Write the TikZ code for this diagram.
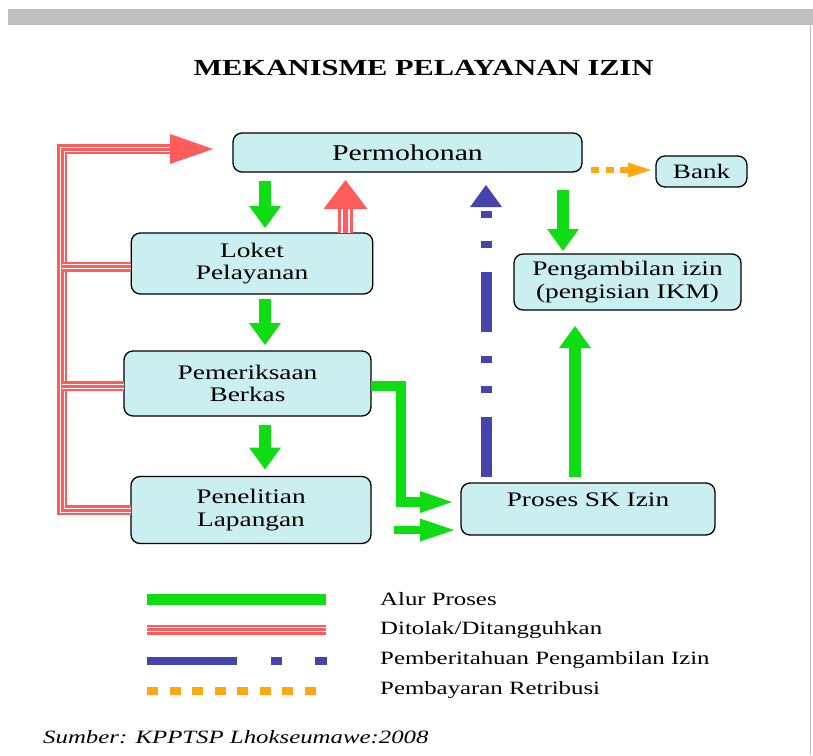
\documentclass[tikz,border=0pt]{standalone}
\usepackage{fontspec}
\setmainfont{Liberation Serif}[FakeStretch=1.32]
\usetikzlibrary{arrows.meta,calc}
\definecolor{boxc}{RGB}{203,238,241}
\definecolor{grn}{RGB}{16,220,20}
\definecolor{rdc}{RGB}{255,92,92}
\definecolor{blu}{RGB}{68,68,170}
\definecolor{org}{RGB}{255,168,16}
\definecolor{barc}{RGB}{191,191,191}
\begin{document}
\begin{tikzpicture}[x=1pt,y=-1pt,
  box/.style={draw=black,line width=1.3pt,fill=boxc,rounded corners=9pt,inner sep=0pt,outer sep=0pt,align=center,font=\fontsize{20.7}{22.6}\selectfont},
  gar/.style={draw=grn,line width=12pt,-{Triangle[length=22pt,width=32pt,line width=0pt]}},
  rtrip/.style={draw=white,line width=5pt,preaction={draw=rdc,line width=10pt},postaction={draw=rdc,line width=3pt}},
  rtripw/.style={draw=white,line width=8.4pt,preaction={draw=rdc,line width=15pt},postaction={draw=rdc,line width=5pt}},
  orgar/.style={draw=org,line width=6.5pt,dash pattern=on 8pt off 6.5pt,-{Triangle[length=23pt,width=15pt,line width=0pt]}},
  legtxt/.style={anchor=base west,inner sep=0pt,font=\fontsize{18.8}{22}\selectfont}
]
\useasboundingbox (0,0) rectangle (813,755);
% top bar and right rule
\fill[barc] (8,9) rectangle (813,25);
\draw[barc,line width=1pt] (810.5,25) -- (810.5,755);

% title
\node[anchor=base,inner sep=0pt,font=\bfseries\fontsize{23}{26}\selectfont] (title) at (423.5,75) {MEKANISME PELAYANAN IZIN};

% boxes
\node[box,minimum width=349pt,minimum height=39pt,font=\fontsize{22.6}{24}\selectfont] (perm) at (407.5,152.5) {Permohonan};
\node[box,minimum width=91pt,minimum height=31pt,font=\fontsize{20.5}{22}\selectfont] (bank) at (701.5,171.5) {Bank};
\node[box,minimum width=241.5pt,minimum height=61pt] (loket) at (252,263.5) {Loket\\Pelayanan};
\node[box,minimum width=227pt,minimum height=56pt] (peng) at (627.5,282) {Pengambilan izin\\(pengisian IKM)};
\node[box,minimum width=247pt,minimum height=65pt] (pem) at (247.5,383.5) {Pemeriksaan\\Berkas};
\node[box,minimum width=240pt,minimum height=67pt] (pen) at (251,510) {Penelitian\\Lapangan};
\node[box,minimum width=254pt,minimum height=52pt] (pros) at (588,509) {};
\node[inner sep=0pt,font=\fontsize{20.7}{22.6}\selectfont] (prosT) at (588,500) {Proses SK Izin};

% green arrows
\coordinate (xa) at (265,0);
\draw[gar] ($(perm.south -| xa)+(0,9)$) -- ($(loket.north -| xa)+(0,-5)$);
\draw[gar] ($(loket.south -| xa)+(0,5)$) -- ($(pem.north -| xa)+(0,-6)$);
\draw[gar] ($(pem.south -| xa)+(0,9)$) -- ($(pen.north -| xa)+(0,-7)$);
\coordinate (xb) at (563,0);
\draw[gar] ($(perm.south -| xb)+(0,18)$) -- ($(peng.north -| xb)+(0,-3)$);
\coordinate (xc) at (575,0);
\draw[gar] ($(pros.north -| xc)+(0,-6)$) -- ($(peng.south -| xc)+(0,16)$);
\coordinate (ye) at (0,386);
\coordinate (yf) at (0,502);
\coordinate (ec1) at (401,386);
\coordinate (ec2) at (401,502);
\draw[gar,line width=10pt,line join=miter,-{Triangle[length=32pt,width=22pt,line width=0pt]}] (pem.east |- ye) -- (ec1) -- (ec2) -- ($(pros.west |- yf)+(-9,0)$);
\coordinate (gs) at (394,530);
\draw[gar,line width=8pt,-{Triangle[length=34pt,width=23pt,line width=0pt]}] (gs) -- ($(pros.west |- gs)+(-7,0)$);

% red rejection lines
\coordinate (rx) at (62,0);
\coordinate (ytop) at (0,149);
\coordinate (rtip) at ($(perm.west |- ytop)+(-20,0)$);
\coordinate (rbase) at ($(rtip)+(-43,0)$);
\draw[rtrip] (pen.west) -- (pen.west -| rx) -- (rx |- rbase) -- (rbase);
\draw[rtrip] ($(loket.west)+(0,3)$) -- ($(loket.west -| rx)+(0,3)$);
\draw[rtrip] ($(pem.west)+(0,2.5)$) -- ($(pem.west -| rx)+(0,2.5)$);
\fill[rdc] (rtip) -- ($(rbase)+(0,-15)$) -- ($(rbase)+(0,15)$) -- cycle;

\coordinate (xr) at (345.5,0);
\coordinate (rutip) at ($(perm.south -| xr)+(0,8)$);
\coordinate (rubase) at ($(rutip)+(0,29)$);
\draw[rtripw] (loket.north -| xr) -- (rubase);
\fill[rdc] (rutip) -- ($(rubase)+(-22,0)$) -- ($(rubase)+(22,0)$) -- cycle;

% orange payment arrow
\draw[orgar] ($(perm.east |- bank.west)+(9,-1.5)$) -- ($(bank.west)+(-5,-1.5)$);

% legend
\coordinate (l1a) at (147,599.5); \coordinate (l1b) at (326,599.5);
\coordinate (l2a) at (147,629.5); \coordinate (l2b) at (326,629.5);
\coordinate (l3a) at (147,661);   \coordinate (l3b) at (327,661);
\coordinate (l4a) at (147,691);   \coordinate (l4b) at (316,691);
\draw[grn,line width=11pt] (l1a) -- (l1b);
\draw[rtrip] (l2a) -- (l2b);
\draw[blu,line width=7.5pt,dash pattern=on 90pt off 34pt on 11pt off 33pt on 12pt] (l3a) -- (l3b);
\draw[org,line width=8pt,dash pattern=on 11pt off 11.5pt] (l4a) -- (l4b);
\node[legtxt] (t1) at (380,605) {Alur Proses};
\node[legtxt] (t2) at (380,634) {Ditolak/Ditangguhkan};
\node[legtxt] (t3) at (380,664) {Pemberitahuan Pengambilan Izin};
\node[legtxt] (t4) at (380,694) {Pembayaran Retribusi};

% source
\node[anchor=base west,inner sep=0pt,font=\itshape\fontsize{18.8}{22}\selectfont] (src) at (43,743) {Sumber: KPPTSP Lhokseumawe:2008};

% blue notification arrow (long dash, dot, dot), drawn last
\coordinate (xbl) at (486,0);
\coordinate (bs) at ($(pros.north -| xbl)+(0,-6)$);
\coordinate (btip) at ($(perm.south -| xbl)+(0,13)$);
\coordinate (bbase) at ($(btip)+(0,22)$);
\draw[blu,line width=11pt] (bs) -- ($(bs)+(0,-60)$);
\draw[blu,line width=11pt] ($(bs)+(0,-84)$) -- ($(bs)+(0,-91)$);
\draw[blu,line width=11pt] ($(bs)+(0,-114)$) -- ($(bs)+(0,-121)$);
\draw[blu,line width=11pt] ($(bs)+(0,-145)$) -- ($(bs)+(0,-205)$);
\draw[blu,line width=11pt] ($(bs)+(0,-229)$) -- ($(bs)+(0,-236)$);
\draw[blu,line width=11pt] ($(bs)+(0,-259)$) -- ($(bs)+(0,-266)$);
\fill[blu] (btip) -- ($(bbase)+(-16,0)$) -- ($(bbase)+(16,0)$) -- cycle;
\end{tikzpicture}
\end{document}
